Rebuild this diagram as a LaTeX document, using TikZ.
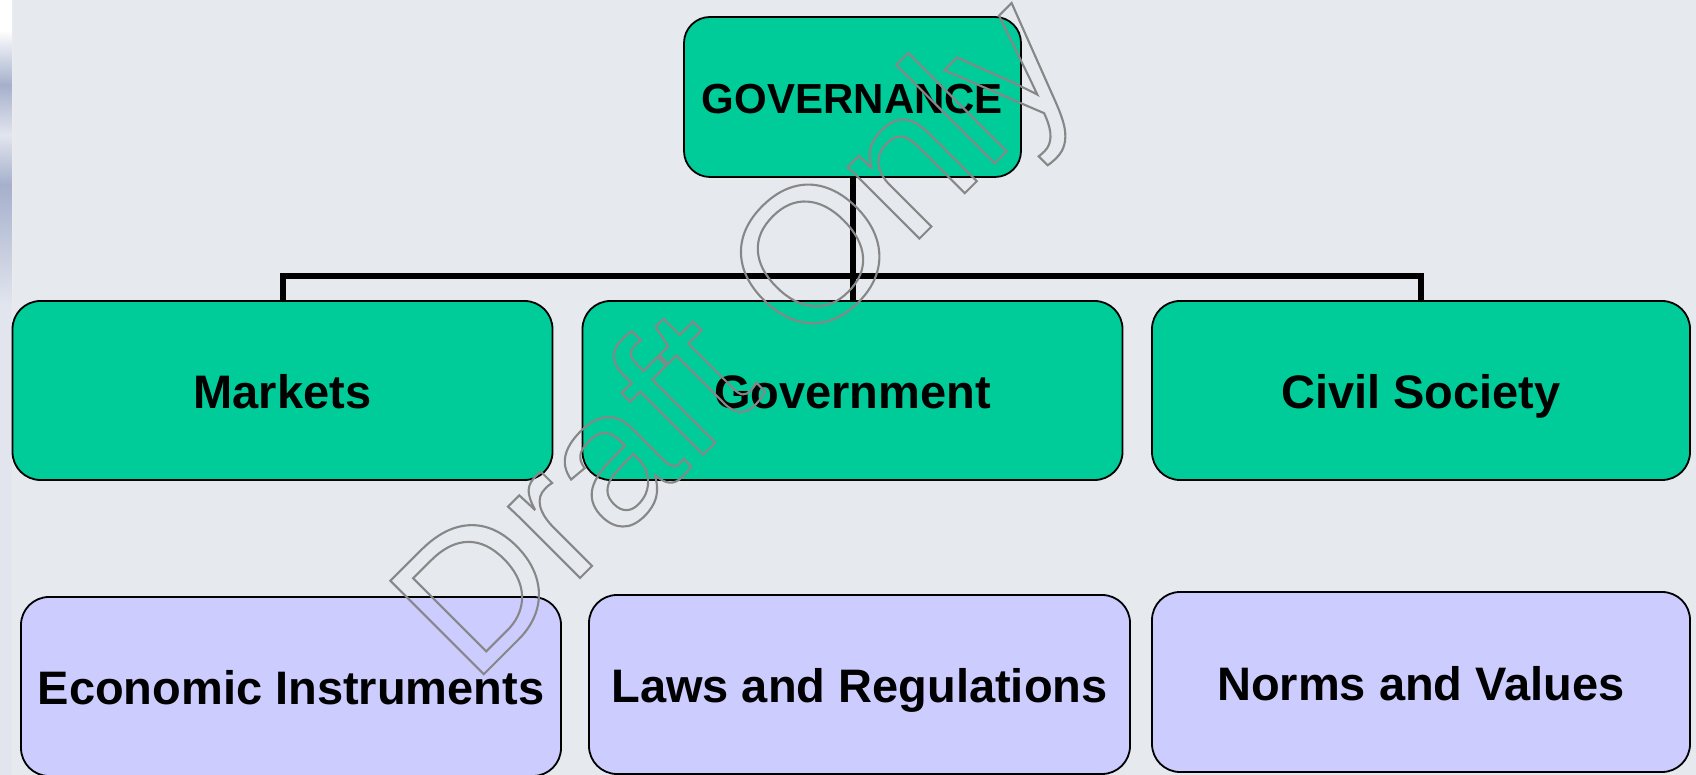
\documentclass[tikz,border=0pt]{standalone}
\usepackage{fontspec}
\setmainfont{Liberation Sans}
\definecolor{bg}{RGB}{230,233,238}
\definecolor{boxgreen}{RGB}{0,204,153}
\definecolor{boxlav}{RGB}{204,204,255}
\definecolor{wm}{RGB}{135,135,135}
\definecolor{stripc}{RGB}{226,229,238}
\definecolor{stripd}{RGB}{165,176,204}
\newcommand{\outlinetext}[1]{\special{pdf:literal direct 1 Tr 2.1 w}#1\special{pdf:literal direct 0 Tr}}
\begin{document}
\begin{tikzpicture}[x=1pt,y=1pt,
  box/.style={draw=black,line width=1.8pt,rounded corners=28pt,inner sep=0pt,
    minimum width=540pt,minimum height=179pt,text height=37pt,text depth=0pt,
    font=\fontsize{47}{56}\selectfont\bfseries},
  topbox/.style={box,fill=boxgreen},
  lowbox/.style={box,fill=boxlav},
  conn/.style={draw=black,line width=6pt}]
\fill[bg] (0,0) rectangle (1696,775);
\useasboundingbox (0,0) rectangle (1696,775);
% faded photo strip at the left edge
\fill[white] (0,745) rectangle (12,775);
\shade[top color=white,bottom color=stripd] (0,690) rectangle (12,745);
\shade[top color=stripd,bottom color=stripc] (0,640) rectangle (12,690);
\shade[top color=stripc,bottom color=stripd] (0,590) rectangle (12,640);
\shade[top color=stripd,bottom color=stripc] (0,470) rectangle (12,590);
\fill[stripc] (0,0) rectangle (12,470);
\draw[line width=1pt,color=black!8] (12.5,0) -- (12.5,775);
\coordinate (bus) at (852.5,499);
\node[topbox,minimum width=337pt,minimum height=160pt,rounded corners=26pt,text height=34pt,
  font=\fontsize{42}{50}\selectfont\bfseries] (gov) at (852.5,678) {GOVERNANCE};
\node[topbox] (mk) at (282.5,384.5) {Markets};
\node[topbox] (gv) at (852.5,384.5) {Government};
\node[topbox,minimum width=538pt] (cs) at (1421,384.5) {Civil Society};
\node[lowbox] (ei) at (291,88.5) {Economic Instruments};
\node[lowbox,minimum width=541pt] (lr) at (859.5,90.5) {Laws and Regulations};
\node[lowbox,minimum width=538pt,minimum height=180pt] (nv) at (1421,93) {Norms and Values};
\draw[conn] (gov.south) -- (bus);
\draw[conn] (bus) -| (mk.north);
\draw[conn] (bus) -| (cs.north);
\draw[conn] (bus) -- (gv.north);
% watermark
\node[anchor=base west,rotate=45,inner sep=0pt,text=wm,font=\fontsize{192}{196}\selectfont] (wmark) at (472.5,89.5)
  {\outlinetext{Draft Only}};
\end{tikzpicture}
\end{document}
